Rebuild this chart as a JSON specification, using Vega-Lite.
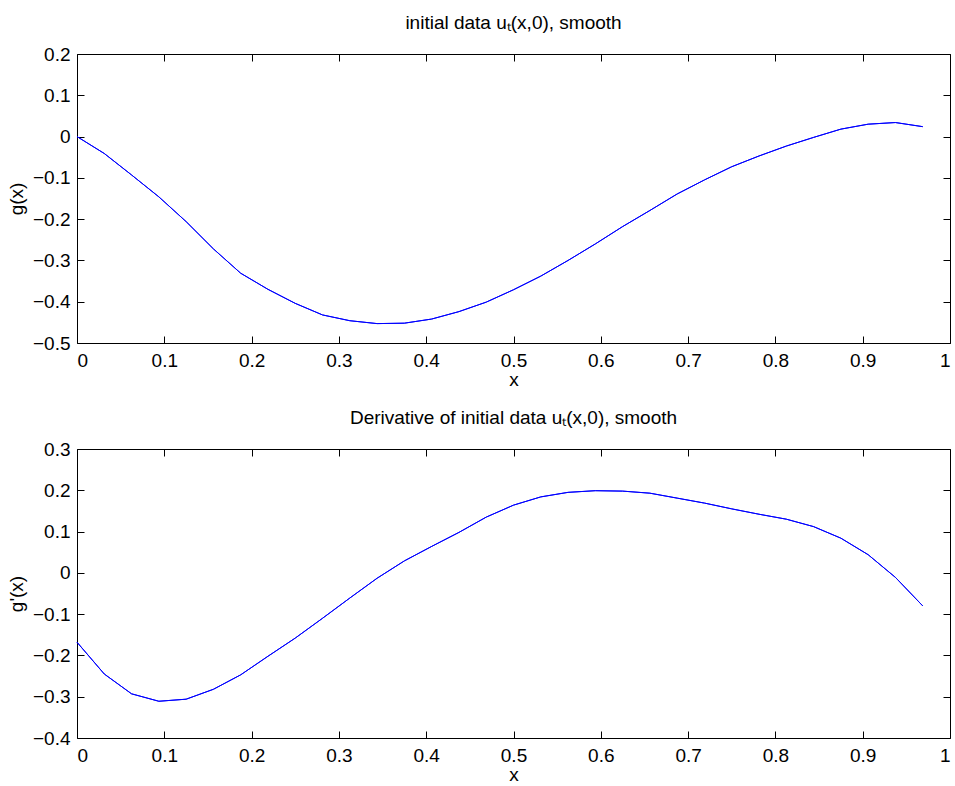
{
  "$schema": "https://vega.github.io/schema/vega-lite/v6.json",
  "background": "white",
  "padding": {"left": 6, "top": 13, "right": 0, "bottom": 0},
  "spacing": 18,
  "config": {
    "font": "Liberation Sans",
    "view": {"stroke": "black", "strokeWidth": 1},
    "axis": {
      "grid": false,
      "domain": false,
      "tickColor": "black",
      "labelColor": "black",
      "titleColor": "black",
      "labelFont": "Liberation Sans",
      "titleFont": "Liberation Sans",
      "labelFontSize": 19,
      "titleFontSize": 19,
      "titleFontWeight": "normal",
      "tickSize": 7,
      "offset": -7,
      "labelPadding": 8
    },
    "axisY": {"labelPadding": 7, "titlePadding": 6},
    "axisX": {"titlePadding": 0},
    "title": {"font": "Liberation Sans", "fontSize": 19, "fontWeight": "normal", "color": "black", "anchor": "middle", "offset": 12}
  },
  "datasets": {
    "g": [
      {"x": 0, "y": 0},
      {"x": 0.03125, "y": -0.041},
      {"x": 0.0625, "y": -0.093},
      {"x": 0.09375, "y": -0.146},
      {"x": 0.125, "y": -0.206},
      {"x": 0.15625, "y": -0.272},
      {"x": 0.1875, "y": -0.331},
      {"x": 0.21875, "y": -0.370},
      {"x": 0.25, "y": -0.404},
      {"x": 0.28125, "y": -0.432},
      {"x": 0.3125, "y": -0.446},
      {"x": 0.34375, "y": -0.453},
      {"x": 0.375, "y": -0.452},
      {"x": 0.40625, "y": -0.442},
      {"x": 0.4375, "y": -0.424},
      {"x": 0.46875, "y": -0.401},
      {"x": 0.5, "y": -0.371},
      {"x": 0.53125, "y": -0.338},
      {"x": 0.5625, "y": -0.300},
      {"x": 0.59375, "y": -0.260},
      {"x": 0.625, "y": -0.218},
      {"x": 0.65625, "y": -0.179},
      {"x": 0.6875, "y": -0.139},
      {"x": 0.71875, "y": -0.105},
      {"x": 0.75, "y": -0.073},
      {"x": 0.78125, "y": -0.047},
      {"x": 0.8125, "y": -0.023},
      {"x": 0.84375, "y": -0.002},
      {"x": 0.875, "y": 0.018},
      {"x": 0.90625, "y": 0.030},
      {"x": 0.9375, "y": 0.034},
      {"x": 0.96875, "y": 0.024}
    ],
    "dg": [
      {"x": 0, "y": -0.168},
      {"x": 0.03125, "y": -0.245},
      {"x": 0.0625, "y": -0.293},
      {"x": 0.09375, "y": -0.311},
      {"x": 0.125, "y": -0.306},
      {"x": 0.15625, "y": -0.282},
      {"x": 0.1875, "y": -0.247},
      {"x": 0.21875, "y": -0.202},
      {"x": 0.25, "y": -0.158},
      {"x": 0.28125, "y": -0.110},
      {"x": 0.3125, "y": -0.061},
      {"x": 0.34375, "y": -0.013},
      {"x": 0.375, "y": 0.029},
      {"x": 0.40625, "y": 0.064},
      {"x": 0.4375, "y": 0.098},
      {"x": 0.46875, "y": 0.135},
      {"x": 0.5, "y": 0.164},
      {"x": 0.53125, "y": 0.184},
      {"x": 0.5625, "y": 0.195},
      {"x": 0.59375, "y": 0.199},
      {"x": 0.625, "y": 0.198},
      {"x": 0.65625, "y": 0.193},
      {"x": 0.6875, "y": 0.181},
      {"x": 0.71875, "y": 0.169},
      {"x": 0.75, "y": 0.155},
      {"x": 0.78125, "y": 0.142},
      {"x": 0.8125, "y": 0.130},
      {"x": 0.84375, "y": 0.112},
      {"x": 0.875, "y": 0.084},
      {"x": 0.90625, "y": 0.044},
      {"x": 0.9375, "y": -0.011},
      {"x": 0.96875, "y": -0.080}
    ]
  },
  "vconcat": [
    {
      "title": "initial data  uₜ(x,0), smooth",
      "width": 873,
      "height": 289,
      "data": {"name": "g"},
      "layer": [
        {
          "mark": {"type": "line", "color": "#0000ff", "strokeWidth": 1},
          "encoding": {
            "x": {"field": "x", "type": "quantitative", "scale": {"domain": [0, 1], "nice": false, "zero": false},
                  "axis": {"values": [0, 0.1, 0.2, 0.3, 0.4, 0.5, 0.6, 0.7, 0.8, 0.9, 1], "format": ".1~f", "title": "x"}},
            "y": {"field": "y", "type": "quantitative", "scale": {"domain": [-0.5, 0.2], "nice": false, "zero": false},
                  "axis": {"values": [-0.5, -0.4, -0.3, -0.2, -0.1, 0, 0.1, 0.2], "format": ".1~f", "title": "g(x)"}}
          }
        },
        {
          "mark": {"type": "line", "color": "#0000ff", "strokeWidth": 1},
          "encoding": {
            "x": {"field": "x", "type": "quantitative", "scale": {"domain": [0, 1], "nice": false, "zero": false},
                  "axis": {"orient": "top", "values": [0, 0.1, 0.2, 0.3, 0.4, 0.5, 0.6, 0.7, 0.8, 0.9, 1], "labels": false, "title": null}},
            "y": {"field": "y", "type": "quantitative", "scale": {"domain": [-0.5, 0.2], "nice": false, "zero": false},
                  "axis": {"orient": "right", "values": [-0.5, -0.4, -0.3, -0.2, -0.1, 0, 0.1, 0.2], "labels": false, "title": null}}
          }
        }
      ],
      "resolve": {"axis": {"x": "independent", "y": "independent"}}
    },
    {
      "title": "Derivative of initial data  uₜ(x,0), smooth",
      "width": 873,
      "height": 289,
      "data": {"name": "dg"},
      "layer": [
        {
          "mark": {"type": "line", "color": "#0000ff", "strokeWidth": 1},
          "encoding": {
            "x": {"field": "x", "type": "quantitative", "scale": {"domain": [0, 1], "nice": false, "zero": false},
                  "axis": {"values": [0, 0.1, 0.2, 0.3, 0.4, 0.5, 0.6, 0.7, 0.8, 0.9, 1], "format": ".1~f", "title": "x"}},
            "y": {"field": "y", "type": "quantitative", "scale": {"domain": [-0.4, 0.3], "nice": false, "zero": false},
                  "axis": {"values": [-0.4, -0.3, -0.2, -0.1, 0, 0.1, 0.2, 0.3], "format": ".1~f", "title": "g'(x)"}}
          }
        },
        {
          "mark": {"type": "line", "color": "#0000ff", "strokeWidth": 1},
          "encoding": {
            "x": {"field": "x", "type": "quantitative", "scale": {"domain": [0, 1], "nice": false, "zero": false},
                  "axis": {"orient": "top", "values": [0, 0.1, 0.2, 0.3, 0.4, 0.5, 0.6, 0.7, 0.8, 0.9, 1], "labels": false, "title": null}},
            "y": {"field": "y", "type": "quantitative", "scale": {"domain": [-0.4, 0.3], "nice": false, "zero": false},
                  "axis": {"orient": "right", "values": [-0.4, -0.3, -0.2, -0.1, 0, 0.1, 0.2, 0.3], "labels": false, "title": null}}
          }
        }
      ],
      "resolve": {"axis": {"x": "independent", "y": "independent"}}
    }
  ]
}
